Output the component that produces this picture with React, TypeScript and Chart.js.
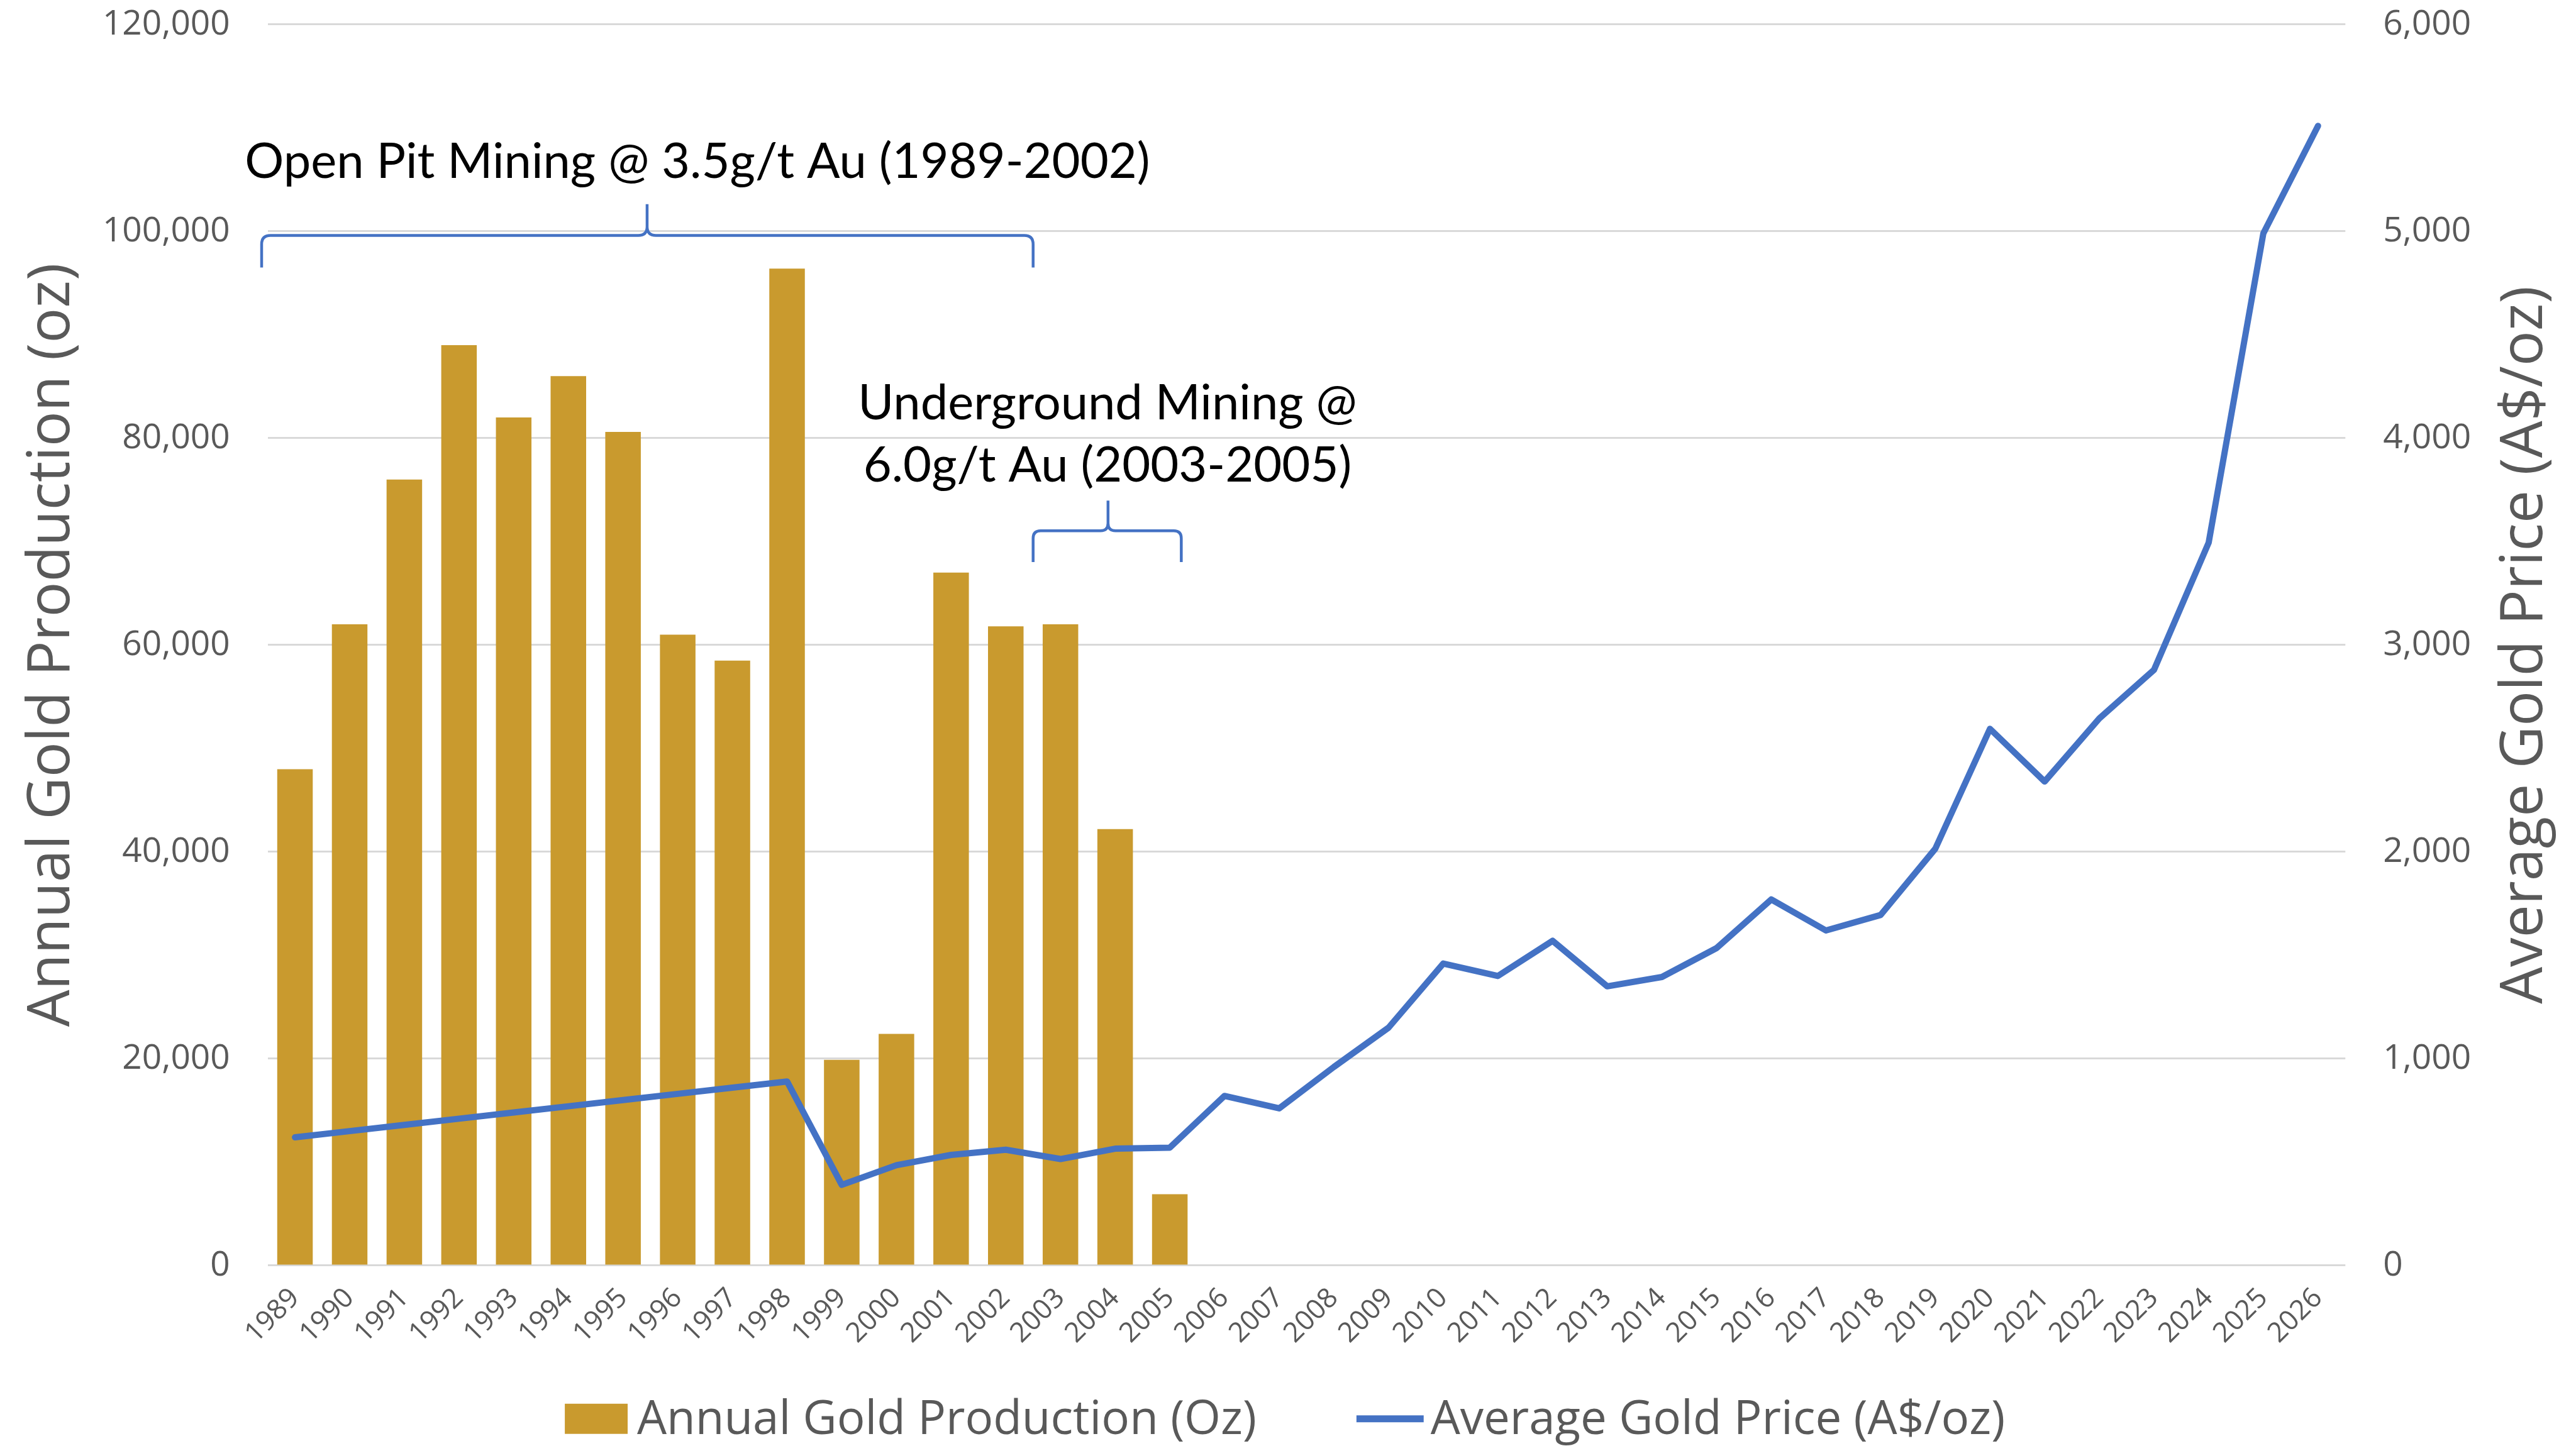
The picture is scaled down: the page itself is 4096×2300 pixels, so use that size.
import React, { useEffect, useRef } from 'react';
import { Chart, registerables } from 'chart.js';

Chart.register(...registerables);

const S = 0.999;
const W = 4096;
const H = 2300;

const years = [
  '1989', '1990', '1991', '1992', '1993', '1994', '1995', '1996', '1997', '1998',
  '1999', '2000', '2001', '2002', '2003', '2004', '2005', '2006', '2007', '2008',
  '2009', '2010', '2011', '2012', '2013', '2014', '2015', '2016', '2017', '2018',
  '2019', '2020', '2021', '2022', '2023', '2024', '2025', '2026',
];

const production = [
  48000, 62000, 76000, 89000, 82000, 86000, 80600, 61000, 58500, 96400,
  19900, 22400, 67000, 61800, 62000, 42200, 6900,
  null, null, null, null, null, null, null, null, null, null, null,
  null, null, null, null, null, null, null, null, null, null,
];

const goldPrice = [
  620, 650, 680, 710, 740, 770, 800, 830, 860, 890,
  390, 485, 535, 560, 515, 565, 570, 820, 760, 960,
  1150, 1460, 1400, 1570, 1350, 1395, 1535, 1770, 1620, 1695,
  2015, 2595, 2340, 2645, 2880, 3495, 4990, 5510,
];

const leftMin = 0;
const leftMax = 120000;
const leftStep = 20000;
const rightMin = 0;
const rightMax = 6000;
const rightStep = 1000;

const productionLabel = 'Annual Gold Production (Oz)';
const priceLabel = 'Average Gold Price (A$/oz)';
const leftTitle = 'Annual Gold Production (oz)';
const rightTitle = 'Average Gold Price (A$/oz)';
const openPitText = 'Open Pit Mining @ 3.5g/t Au (1989-2002)';
const undergroundLines = ['Underground Mining @', '6.0g/t Au (2003-2005)'];

const BAR = '#C99A2E';
const LINE = '#4472C4';
const GRAY = '#595959';
const GRID = '#D9D9D9';
const SANS = "'Open Sans', sans-serif";
const CAL = "Lato, sans-serif";

const fmt = (v: number) => Number(v).toLocaleString('en-US');

function fitSize(ctx: CanvasRenderingContext2D, text: string, family: string, target: number) {
  ctx.font = `100px ${family}`;
  const w = ctx.measureText(text).width;
  return (100 * target) / w;
}

function brace(ctx: CanvasRenderingContext2D, xL: number, xR: number, xM: number, yH: number, yE: number, yP: number, r: number) {
  ctx.beginPath();
  ctx.moveTo(xL, yE);
  ctx.lineTo(xL, yH + r);
  ctx.quadraticCurveTo(xL, yH, xL + r, yH);
  ctx.lineTo(xM - r, yH);
  ctx.quadraticCurveTo(xM, yH, xM, yH - r);
  ctx.lineTo(xM, yP);
  ctx.moveTo(xM, yH - r);
  ctx.quadraticCurveTo(xM, yH, xM + r, yH);
  ctx.lineTo(xR - r, yH);
  ctx.quadraticCurveTo(xR, yH, xR, yH + r);
  ctx.lineTo(xR, yE);
  ctx.stroke();
}

const overlay = {
  id: 'overlay',
  beforeDraw(chart: any) {
    const c = chart.ctx;
    c.save();
    c.fillStyle = '#ffffff';
    c.fillRect(0, 0, chart.width, chart.height);
    c.restore();
  },
  afterDatasetsDraw(chart: any) {
    const c: CanvasRenderingContext2D = chart.ctx;
    const xs = chart.scales.x;
    const ys = chart.scales.y;
    const px = (i: number) => xs.getPixelForValue(i);
    const py = (v: number) => ys.getPixelForValue(v);
    c.save();
    c.strokeStyle = LINE;
    c.lineWidth = 4.5 * S;
    c.lineJoin = 'round';
    // Open pit bracket (1989-2002)
    brace(c, px(-0.61), px(13.5), px(6.44), py(99600), py(96500), py(102630), 14 * S);
    // Underground bracket (2003-2005)
    brace(c, px(13.5), px(16.21), px(14.87), py(71050), py(68020), py(73970), 12 * S);

    c.fillStyle = '#000000';
    const fs = fitSize(c, openPitText, CAL, 1441 * S);
    c.font = `${fs}px ${CAL}`;
    c.textAlign = 'center';
    c.textBaseline = 'alphabetic';
    c.fillText(openPitText, px(7.36), py(105180));
    c.fillText(undergroundLines[0], px(14.86), py(81800));
    c.fillText(undergroundLines[1], px(14.86), py(75790));
    c.restore();
  },
  afterDraw(chart: any) {
    const c: CanvasRenderingContext2D = chart.ctx;
    const area = chart.chartArea;
    const cy = (area.top + area.bottom) / 2;
    c.save();
    c.fillStyle = GRAY;
    // axis titles
    const ts = fitSize(c, leftTitle, SANS, 1216 * S);
    c.font = `${ts}px ${SANS}`;
    c.textAlign = 'center';
    c.textBaseline = 'alphabetic';
    c.save();
    c.translate(110 * S, cy);
    c.rotate(-Math.PI / 2);
    c.fillText(leftTitle, 0, 0);
    c.restore();
    c.save();
    c.translate(4046 * S, cy);
    c.rotate(-Math.PI / 2);
    c.fillText(rightTitle, 0, 0);
    c.restore();

    // legend
    const ls = fitSize(c, productionLabel, SANS, 986 * S);
    c.font = `${ls}px ${SANS}`;
    c.textAlign = 'left';
    c.textBaseline = 'alphabetic';
    c.fillStyle = BAR;
    c.fillRect(899 * S, 2235 * S, 100 * S, 48 * S);
    c.fillStyle = GRAY;
    c.fillText(productionLabel, 1014 * S, 2283 * S);
    c.strokeStyle = LINE;
    c.lineWidth = 11 * S;
    c.lineCap = 'butt';
    c.beginPath();
    c.moveTo(2159 * S, 2259 * S);
    c.lineTo(2266 * S, 2259 * S);
    c.stroke();
    c.fillText(priceLabel, 2277 * S, 2283 * S);
    c.restore();
  },
};

export default function App() {
  const ref = useRef<HTMLCanvasElement | null>(null);

  useEffect(() => {
    const canvas = ref.current;
    if (!canvas) return;
    Chart.defaults.font.family = SANS;
    const chartBottom = 2015 * S;
    const xHeight = 150 * S;
    const chart = new Chart(canvas, {
      type: 'bar',
      data: {
        labels: years,
        datasets: [
          {
            type: 'line',
            label: priceLabel,
            data: goldPrice,
            yAxisID: 'y1',
            borderColor: LINE,
            backgroundColor: LINE,
            borderWidth: 10 * S,
            pointRadius: 0,
            tension: 0,
            borderJoinStyle: 'round',
            borderCapStyle: 'round',
            order: 0,
          } as any,
          {
            type: 'bar',
            label: productionLabel,
            data: production,
            yAxisID: 'y',
            backgroundColor: BAR,
            borderWidth: 0,
            barPercentage: 0.65,
            categoryPercentage: 1.0,
            order: 1,
          } as any,
        ],
      },
      options: {
        responsive: false,
        animation: false,
        devicePixelRatio: 1,
        layout: {
          autoPadding: false,
          padding: { top: 39 * S, bottom: H - chartBottom - xHeight, left: 0, right: 0 },
        },
        plugins: {
          legend: { display: false },
          tooltip: { enabled: false },
        },
        scales: {
          x: {
            type: 'category',
            grid: { display: false, drawTicks: false },
            border: { display: false },
            ticks: {
              color: GRAY,
              font: { family: SANS, size: 44 * S },
              minRotation: 45,
              maxRotation: 45,
              autoSkip: false,
              padding: 26 * S,
            },
            afterFit: (s: any) => {
              s.height = xHeight;
              s.paddingLeft = 0;
              s.paddingRight = 0;
            },
          },
          y: {
            type: 'linear',
            position: 'left',
            min: leftMin,
            max: leftMax,
            grid: { color: GRID, lineWidth: 3 * S, drawTicks: false },
            border: { display: false },
            ticks: {
              stepSize: leftStep,
              color: GRAY,
              font: { family: SANS, size: 55 * S },
              padding: 60 * S,
              callback: (v: any) => fmt(v),
            },
            afterFit: (s: any) => {
              s.width = 426 * S;
              s.paddingTop = 0;
              s.paddingBottom = 0;
            },
          },
          y1: {
            type: 'linear',
            position: 'right',
            min: rightMin,
            max: rightMax,
            grid: { display: false, drawTicks: false },
            border: { display: false },
            ticks: {
              stepSize: rightStep,
              color: GRAY,
              font: { family: SANS, size: 55 * S },
              padding: 60 * S,
              callback: (v: any) => fmt(v),
            },
            afterFit: (s: any) => {
              s.width = W - 3733 * S;
              s.paddingTop = 0;
              s.paddingBottom = 0;
            },
          },
        },
      } as any,
      plugins: [overlay],
    });
    return () => chart.destroy();
  }, []);

  return (
    <div style={{ position: 'fixed', left: 0, top: 0, width: W, height: H, background: '#ffffff' }}>
      <canvas ref={ref} width={W} height={H} style={{ display: 'block', width: W, height: H }} />
    </div>
  );
}
